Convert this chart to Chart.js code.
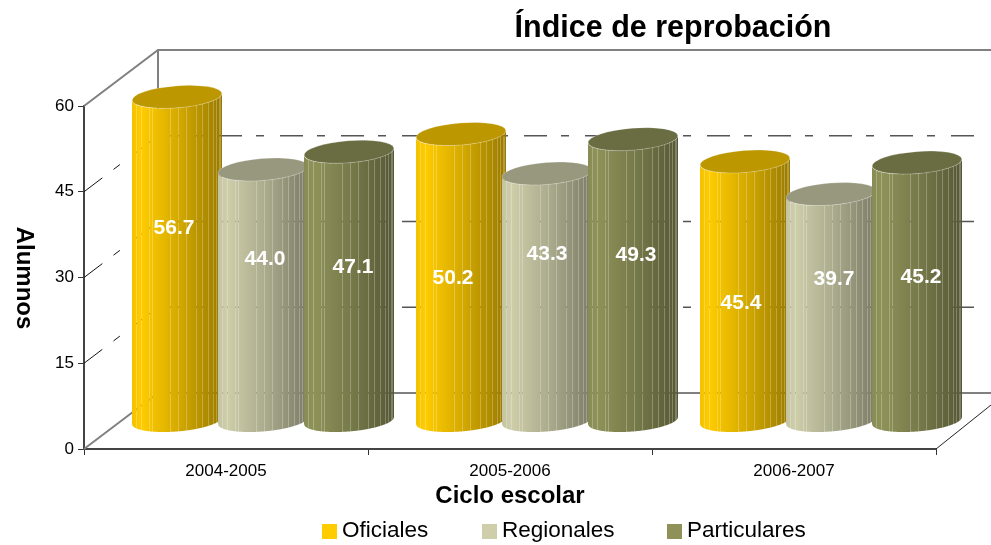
<!DOCTYPE html>
<html>
<head>
<meta charset="utf-8">
<style>
  html, body { margin: 0; padding: 0; background: #fff; }
  canvas { display: block; }
</style>
<script src="https://cdn.jsdelivr.net/npm/chart.js@4"></script>
</head>
<body>
<canvas id="chart" width="991" height="545"></canvas>
<script>
const categories = ['2004-2005', '2005-2006', '2006-2007'];
const oficiales = [56.7, 50.2, 45.4];
const regionales = [44.0, 43.3, 39.7];
const particulares = [47.1, 49.3, 45.2];
const seriesNames = ['Oficiales', 'Regionales', 'Particulares'];
const seriesColors = [[255, 204, 0], [206, 206, 170], [143, 146, 88]];

// the original labels sit off-centre on the cylinders: [dx, dy] per series, per category
const labelNudge = [
  [[-3, -30], [-8, 1], [-4, 12]],
  [[2, -36], [0, -43], [3, -28]],
  [[4, -19], [3, -25], [4, -14]]
];

// where the pale seams fall across a cylinder, 0 = left edge, 1 = right edge
const seams = [0.055, 0.1, 0.19, 0.23, 0.43, 0.52, 0.61, 0.72, 0.78, 0.855, 0.91, 0.94, 0.97, 0.985];

const font = 'Arial, "Liberation Sans", sans-serif';
const depthX = 74, depthY = 56;
const tilt = -4.5 * Math.PI / 180;
const minorR = 11;

function shade(c, f) {
  return 'rgb(' + c.map(v => Math.round(v * f)).join(',') + ')';
}

// y of the near (lower) edge of the tilted ellipse at a given x
function rimY(cx, cy, R, x) {
  const u = Math.max(-1, Math.min(1, (x - cx) / R));
  const a = Math.acos(u);
  const ex = R * u, ey = minorR * Math.sin(a);
  return cy + ex * Math.sin(tilt) + ey * Math.cos(tilt);
}

function drawCylinder(ctx, bar, color) {
  const cx = bar.x + depthX / 2;
  const top = bar.y - depthY / 2;
  const bottom = bar.base - depthY / 2;
  const R = bar.width / 2;

  const grad = ctx.createLinearGradient(cx - R, 0, cx + R, 0);
  grad.addColorStop(0, shade(color, 0.95));
  grad.addColorStop(0.1, shade(color, 1));
  grad.addColorStop(0.5, shade(color, 0.84));
  grad.addColorStop(1, shade(color, 0.6));
  ctx.fillStyle = grad;

  // seams sit on half pixels, so the background shows through them a little
  const edges = [cx - R].concat(seams.map(t => Math.floor(cx - R + 2 * R * t) + 0.5), [cx + R]);
  for (let i = 0; i < edges.length - 1; i++) {
    const x0 = edges[i], x1 = edges[i + 1];
    ctx.beginPath();
    ctx.moveTo(x0, rimY(cx, top, R, x0));
    for (let x = x0; x < x1; x += 0.5) ctx.lineTo(x, rimY(cx, top, R, x));
    ctx.lineTo(x1, rimY(cx, top, R, x1));
    ctx.lineTo(x1, rimY(cx, bottom, R, x1));
    for (let x = x1; x > x0; x -= 0.5) ctx.lineTo(x, rimY(cx, bottom, R, x));
    ctx.lineTo(x0, rimY(cx, bottom, R, x0));
    ctx.closePath();
    ctx.fill();
  }

  // top cap
  ctx.fillStyle = shade(color, 0.74);
  ctx.beginPath();
  ctx.ellipse(cx, top, R, minorR, tilt, 0, Math.PI * 2);
  ctx.fill();
  ctx.strokeStyle = 'rgba(255,255,255,0.25)';
  ctx.lineWidth = 1;
  ctx.stroke();
}

const walls = {
  id: 'walls',
  beforeDatasetsDraw(chart) {
    const ctx = chart.ctx;
    const y = chart.scales.y;
    const area = chart.chartArea;
    const floorY = y.getPixelForValue(0) - depthY;
    const topY = y.getPixelForValue(60) - depthY;
    const backX = area.left + depthX;

    ctx.save();

    // dash-dot gridlines on the side and back wall
    ctx.setLineDash([23, 14, 8, 16]);
    [15, 30, 45].forEach(v => {
      const py = y.getPixelForValue(v);
      ctx.strokeStyle = '#111';
      ctx.lineWidth = 1;
      ctx.beginPath();
      ctx.moveTo(area.left, py);
      ctx.lineTo(backX, py - depthY);
      ctx.stroke();
      ctx.strokeStyle = '#555';
      ctx.lineWidth = 1.4;
      ctx.beginPath();
      ctx.moveTo(backX, py - depthY);
      ctx.lineTo(979, py - depthY);
      ctx.stroke();
    });
    ctx.setLineDash([]);

    // wall frame
    ctx.strokeStyle = '#808080';
    ctx.lineWidth = 2;
    ctx.beginPath();
    ctx.moveTo(area.left, y.getPixelForValue(60));
    ctx.lineTo(backX, topY);
    ctx.lineTo(991, topY);
    ctx.moveTo(backX, topY);
    ctx.lineTo(backX, floorY);
    ctx.lineTo(991, floorY);
    ctx.moveTo(backX, floorY);
    ctx.lineTo(area.left, y.getPixelForValue(0));
    ctx.stroke();

    // floor edge on the right
    ctx.strokeStyle = '#222';
    ctx.lineWidth = 1;
    ctx.beginPath();
    ctx.moveTo(area.right, area.bottom);
    ctx.lineTo(991, area.bottom - 44);
    ctx.stroke();

    // cylinders, in dataset order so the later series overlaps the earlier one
    chart.data.datasets.forEach((ds, i) => {
      chart.getDatasetMeta(i).data.forEach(bar => drawCylinder(ctx, bar, seriesColors[i]));
    });

    // value labels
    ctx.fillStyle = '#fff';
    ctx.font = 'bold 21px ' + font;
    ctx.textAlign = 'center';
    ctx.textBaseline = 'middle';
    chart.data.datasets.forEach((ds, i) => {
      chart.getDatasetMeta(i).data.forEach((bar, j) => {
        const cx = bar.x + depthX / 2 + labelNudge[i][j][0];
        const cy = (bar.y + bar.base) / 2 - depthY / 2 + labelNudge[i][j][1];
        ctx.fillText(ds.data[j].toFixed(1), cx, cy);
      });
    });

    ctx.restore();
    return false;
  },
  afterDraw(chart) {
    const ctx = chart.ctx;
    ctx.save();
    ctx.fillStyle = '#000';
    ctx.textBaseline = 'middle';
    ctx.textAlign = 'center';

    ctx.font = 'bold 30.5px ' + font;
    ctx.fillText('Índice de reprobación', 673, 29);

    ctx.font = 'bold 24px ' + font;
    ctx.fillText('Ciclo escolar', 510, 496);

    ctx.save();
    ctx.translate(24, 278);
    ctx.rotate(Math.PI / 2);
    ctx.fillText('Alumnos', 0, 0);
    ctx.restore();

    // legend
    const swatchX = [322, 482, 667];
    ctx.textAlign = 'left';
    ctx.font = '22.5px ' + font;
    seriesNames.forEach((name, i) => {
      ctx.fillStyle = shade(seriesColors[i], 1);
      ctx.fillRect(swatchX[i], 524, 15, 15);
      ctx.fillStyle = '#000';
      ctx.fillText(name, swatchX[i] + 20, 531);
    });
    ctx.restore();
  }
};

new Chart(document.getElementById('chart'), {
  type: 'bar',
  data: {
    labels: categories,
    datasets: [
      { label: seriesNames[0], data: oficiales, backgroundColor: shade(seriesColors[0], 1) },
      { label: seriesNames[1], data: regionales, backgroundColor: shade(seriesColors[1], 1) },
      { label: seriesNames[2], data: particulares, backgroundColor: shade(seriesColors[2], 1) }
    ]
  },
  plugins: [walls],
  options: {
    responsive: false,
    animation: false,
    layout: { padding: { left: 0, right: 55, top: 106, bottom: 0 } },
    categoryPercentage: 258 / 284,
    barPercentage: 90 / 86,
    plugins: {
      legend: { display: false },
      title: { display: false },
      tooltip: { enabled: false }
    },
    scales: {
      x: {
        afterFit(s) { s.height = 96; },
        border: { color: '#444', width: 2 },
        grid: { drawOnChartArea: false, color: '#333', tickLength: 6, lineWidth: 1 },
        ticks: { color: '#000', padding: 6, maxRotation: 0, font: { family: font, size: 17 } }
      },
      y: {
        min: 0,
        max: 60,
        afterFit(s) { s.width = 84; },
        border: { color: '#444', width: 2 },
        grid: { drawOnChartArea: false, color: '#333', tickLength: 6, lineWidth: 1 },
        ticks: { stepSize: 15, color: '#000', padding: 4, font: { family: font, size: 17 } }
      }
    }
  }
});
</script>
</body>
</html>
